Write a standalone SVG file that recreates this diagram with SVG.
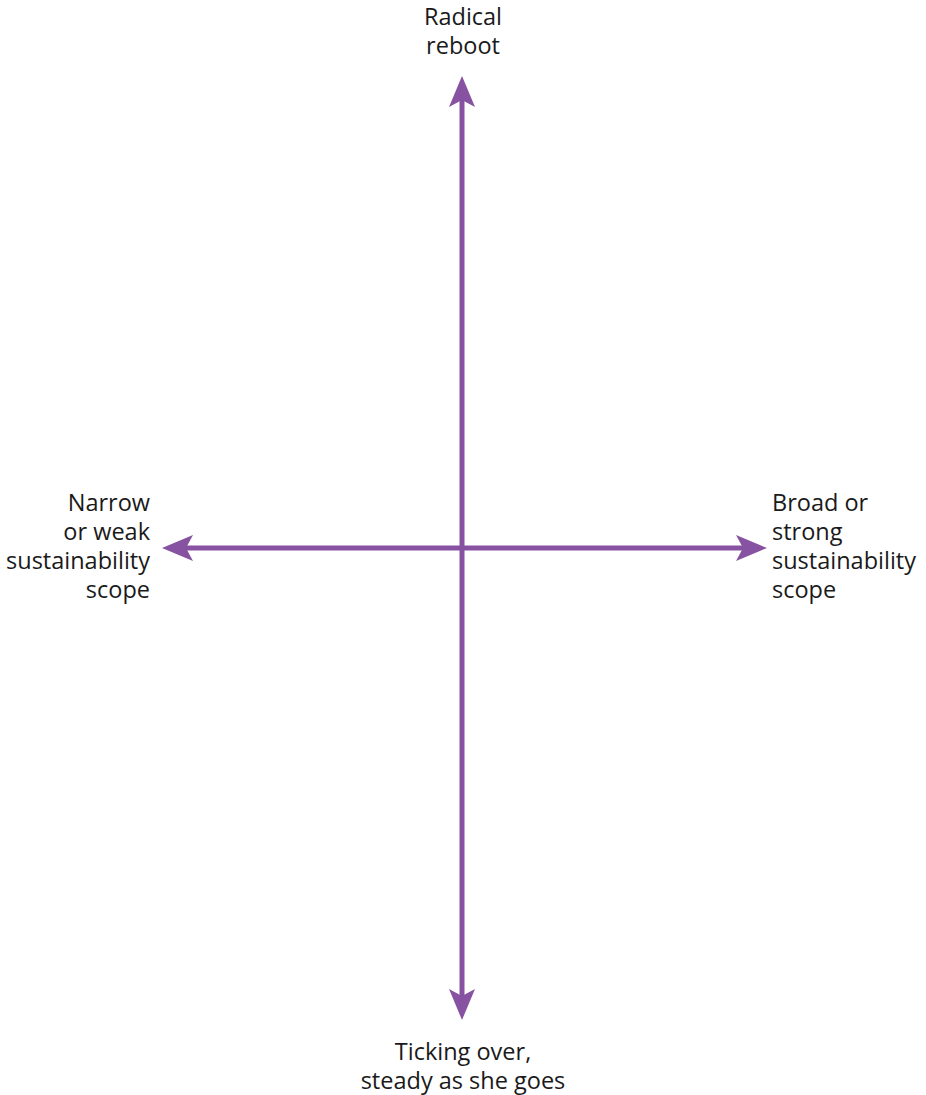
<svg xmlns="http://www.w3.org/2000/svg" width="926" height="1095" viewBox="0 0 926 1095">
<style>
.ax{stroke:#8652a1;stroke-width:5;fill:none}
.hd{fill:#8652a1}
text{font-family:"Open Sans","Liberation Sans",sans-serif;font-size:23.5px;fill:#1a1a1a}
</style>
<rect width="926" height="1095" fill="#fff"/>
<g id="connectors">
<line class="ax" x1="462" y1="98" x2="462" y2="998"/>
<line class="ax" x1="184" y1="548" x2="745" y2="548"/>
<path class="hd" d="M462,76 L475,107 L462,100 L449,107 Z"/>
<path class="hd" d="M462,1020 L475,989 L462,996 L449,989 Z"/>
<path class="hd" d="M162,548 L193,535 L186,548 L193,561 Z"/>
<path class="hd" d="M767,548 L736,535 L743,548 L736,561 Z"/>
</g>
<g id="top">
<text x="463" y="25" text-anchor="middle">Radical</text>
<text x="463" y="54" text-anchor="middle">reboot</text>
</g>
<g id="left">
<text x="150" y="511" text-anchor="end">Narrow</text>
<text x="150" y="540" text-anchor="end">or weak</text>
<text x="150" y="569" text-anchor="end">sustainability</text>
<text x="150" y="598" text-anchor="end">scope</text>
</g>
<g id="right">
<text x="772" y="511">Broad or</text>
<text x="772" y="540">strong</text>
<text x="772" y="569">sustainability</text>
<text x="772" y="598">scope</text>
</g>
<g id="bottom">
<text x="463" y="1060" text-anchor="middle">Ticking over,</text>
<text x="463" y="1089" text-anchor="middle">steady as she goes</text>
</g>
</svg>
